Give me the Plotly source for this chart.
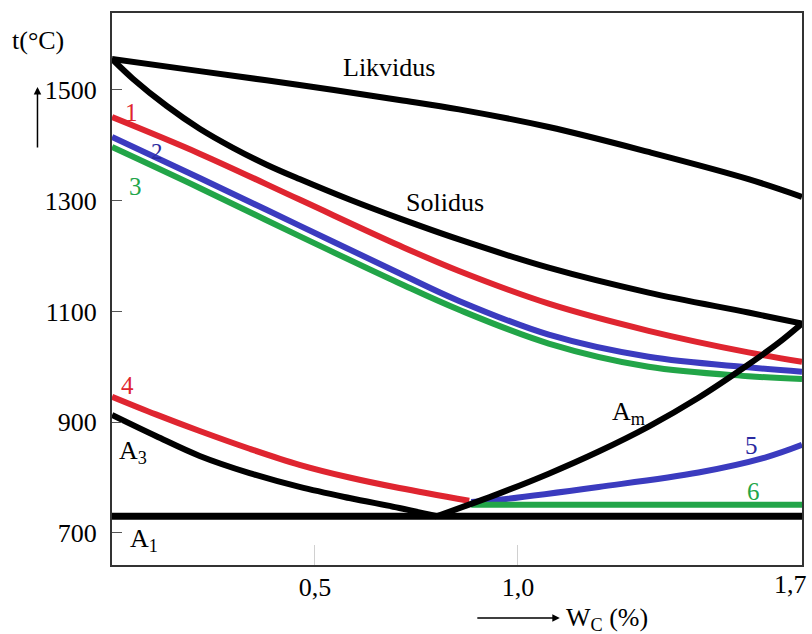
import plotly.graph_objects as go

# ---- data (carbon content %, temperature °C) ----
liq_c = [0, 0.216, 0.462, 0.708, 0.855, 1.076, 1.322, 1.568, 1.70]
liq_t = [1556, 1534, 1509, 1482, 1465, 1433, 1388, 1339, 1307]

sol_c = [0, 0.052, 0.135, 0.216, 0.297, 0.381, 0.462, 0.585, 0.708, 0.855, 1.076, 1.322, 1.568, 1.70]
sol_t = [1556, 1520, 1471, 1430, 1396, 1365, 1339, 1302, 1268, 1230, 1179, 1134, 1098, 1078]

c123 = [0, 0.216, 0.462, 0.708, 0.855, 1.076, 1.322, 1.568, 1.70]
curve1_t = [1451, 1385, 1302, 1219, 1173, 1114, 1065, 1026, 1009]
curve2_t = [1415, 1341, 1255, 1169, 1119, 1058, 1018, 999, 991]
curve3_t = [1397, 1323, 1236, 1151, 1103, 1042, 1000, 983, 978]

curve4_c = [0, 0.108, 0.216, 0.339, 0.462, 0.585, 0.708, 0.880]
curve4_t = [946, 914, 884, 852, 823, 800, 781, 758]

a3_c = [0, 0.108, 0.216, 0.339, 0.462, 0.585, 0.708, 0.80]
a3_t = [913, 875, 839, 808, 783, 763, 745, 730]

am_c = [0.80, 0.953, 1.076, 1.199, 1.322, 1.445, 1.568, 1.642, 1.70]
am_t = [730, 771, 807, 847, 892, 944, 1004, 1043, 1078]

a1_c = [0, 1.70]
a1_t = [730, 730]

curve5_c = [0.885, 0.953, 1.199, 1.445, 1.609, 1.70]
curve5_t = [756, 760, 783, 809, 836, 859]

curve6_c = [0.885, 1.70]
curve6_t = [751, 751]

x_tickvals = [0.5, 1.0, 1.7]
x_ticktext = ["0,5", "1,0", "1,7"]
y_tickvals = [700, 900, 1100, 1300, 1500]

RED = "#df2530"
BLUE = "#3b3bbf"
GREEN = "#22a548"
BLACK = "#000000"
FONT = "Liberation Serif"

fig = go.Figure()

def add_line(xs, ys, color, width=6):
    fig.add_trace(go.Scatter(x=xs, y=ys, mode="lines",
                             line=dict(color=color, width=width, shape="spline", smoothing=1.0),
                             hoverinfo="skip", showlegend=False))

# coloured curves first (black lines drawn over them)
add_line(c123, curve1_t, RED)
add_line(c123, curve2_t, BLUE)
add_line(c123, curve3_t, GREEN)
add_line(curve4_c, curve4_t, RED)
add_line(curve5_c, curve5_t, BLUE)
add_line(curve6_c, curve6_t, GREEN)

add_line(liq_c, liq_t, BLACK)
add_line(sol_c, sol_t, BLACK)
add_line(a3_c, a3_t, BLACK)
add_line(am_c, am_t, BLACK)
add_line(a1_c, a1_t, BLACK, width=7)

def label(x, y, text, color=BLACK, xanchor="center", size=26):
    fig.add_annotation(x=x, y=y, text=text, showarrow=False, xanchor=xanchor,
                       yanchor="middle", font=dict(family=FONT, size=size, color=color))

label(0.683, 1541, "Likvidus")
label(0.821, 1296, "Solidus")
label(0.049, 1460, "1", RED, size=25)
label(0.110, 1388, "2", "#2a2aa0", size=23)
label(0.057, 1326, "3", GREEN, size=25)
label(0.039, 966, "4", RED, size=25)
label(1.575, 857, "5", "#2a2aa0", size=25)
label(1.580, 774, "6", GREEN, size=25)
label(0.012, 847, "A<sub>3</sub>", xanchor="left")
label(0.040, 688, "A<sub>1</sub>", xanchor="left")
label(1.228, 917, "A<sub>m</sub>", xanchor="left")

# last x tick label sits flush with the right edge of the frame
fig.add_annotation(x=x_tickvals[2], xref="x", yref="paper", y=-0.036, text=x_ticktext[2],
                   showarrow=False, xanchor="right", yanchor="middle", xshift=7,
                   font=dict(family=FONT, size=26, color=BLACK))

# axis titles and arrows (paper coordinates)
fig.add_annotation(xref="paper", yref="paper", x=-0.148, y=0.951, text="t(°C)",
                   showarrow=False, xanchor="left", yanchor="middle",
                   font=dict(family=FONT, size=26, color=BLACK))
fig.add_annotation(xref="paper", yref="paper", x=-0.108, y=0.866, text="",
                   showarrow=True, ax=0, ay=62, arrowhead=2, arrowsize=1, arrowwidth=1.5,
                   arrowcolor=BLACK)
fig.add_annotation(xref="paper", yref="paper", x=0.655, y=-0.097, text="W<sub>C</sub> (%)",
                   showarrow=False, xanchor="left", yanchor="middle",
                   font=dict(family=FONT, size=26, color=BLACK))
fig.add_annotation(xref="paper", yref="paper", x=0.649, y=-0.096, text="",
                   showarrow=True, ax=-84, ay=0, arrowhead=2, arrowsize=1, arrowwidth=1.5,
                   arrowcolor=BLACK)

fig.update_layout(
    width=812, height=634,
    margin=dict(l=112, r=8, t=13, b=69),
    paper_bgcolor="white", plot_bgcolor="white",
    showlegend=False,
    xaxis=dict(range=[0, 1.7], tickvals=x_tickvals[:2], ticktext=x_ticktext[:2],
               ticks="inside", ticklen=20, tickcolor="#d0d0d0", tickwidth=1,
               showgrid=False, zeroline=False, showline=True, mirror=True,
               linecolor="#333333", linewidth=2, ticklabelstandoff=-2,
               tickfont=dict(family=FONT, size=26, color=BLACK)),
    yaxis=dict(range=[642, 1639], tickvals=y_tickvals,
               ticks="inside", ticklen=10, tickcolor="#555555", tickwidth=1,
               showgrid=False, zeroline=False, showline=True, mirror=True,
               linecolor="#333333", linewidth=2, ticklabelstandoff=8,
               tickfont=dict(family=FONT, size=26, color=BLACK)),
)

fig.write_html("out.html", config={"displayModeBar": False},
               post_script="document.body.style.margin='0';")
